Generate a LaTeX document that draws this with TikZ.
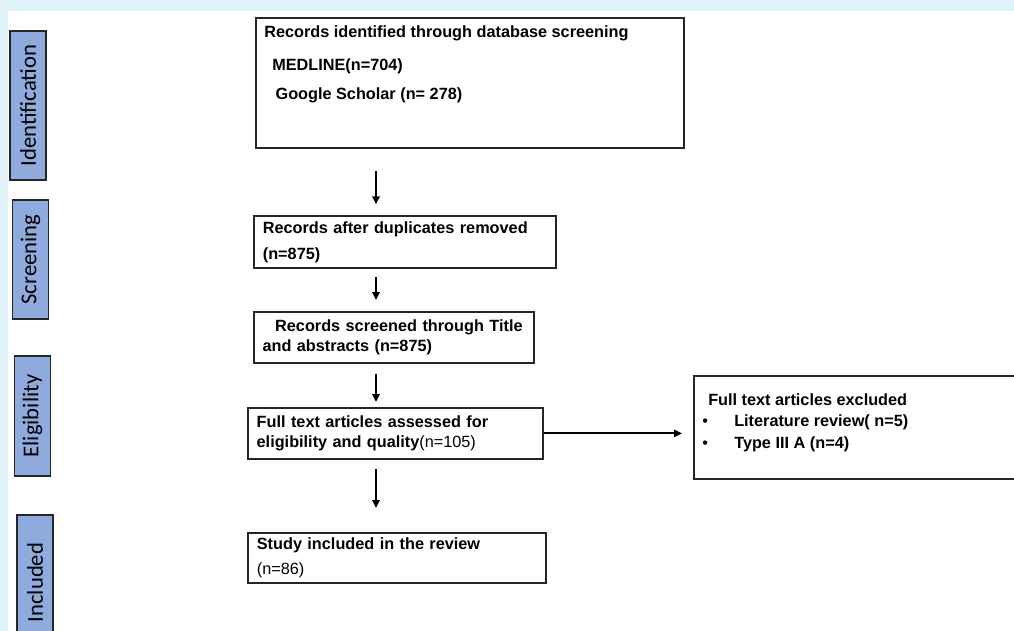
\documentclass[tikz,border=0pt]{standalone}
\usepackage{fontspec}
\setmainfont{Liberation Sans}
\newfontfamily\calibrifont{Carlito}
\usetikzlibrary{arrows.meta}
\definecolor{framebg}{HTML}{E0F2FA}
\definecolor{phasefill}{HTML}{8FAADC}
\definecolor{boxline}{HTML}{262626}

\begin{document}
\begin{tikzpicture}[x=0.75pt, y=-0.75pt,
  phase/.style={draw=boxline, line width=1.2pt, fill=phasefill, rotate=90,
    minimum height=27pt, inner sep=0pt, font=\calibrifont\fontsize{17}{20}\selectfont},
  stage/.style={draw=boxline, line width=1.3pt, anchor=north west, align=left,
    inner xsep=6.5pt, font=\fontsize{12.2}{14.6}\selectfont\bfseries},
  stagetext/.style={anchor=north west, inner sep=0pt, align=left,
    font=\fontsize{12.2}{14.6}\selectfont\bfseries},
  flow/.style={line width=1.5pt, draw=black, -{Triangle[width=5.5pt,length=6pt]}}]
  \useasboundingbox (0,0) rectangle (1014,631);
  \clip (0,0) rectangle (1014,631);
  \fill[framebg] (0,0) rectangle (1014,631);
  \fill[white] (8,11) rectangle (1014,631);

  \node[phase, minimum width=111.75pt] (idphase) at (28,105.5) {Identification};
  \node[phase, minimum width=89.25pt] (scrphase) at (30.5,259.5) {Screening};
  \node[phase, minimum width=90pt] (eligphase) at (32.5,416) {Eligibility};
  \node[phase, minimum width=101.25pt] (inclphase) at (35,582.5) {Included};

  \node[stage, minimum width=321pt, minimum height=97.5pt] (ident) at (255,17) {};
  \node[stagetext] (identtext) at (264,25) {Records identified through database screening\\[10.4pt]
    \hspace*{6pt}MEDLINE(n=704)\\[7.4pt]
    \hspace*{8.5pt}Google Scholar (n= 278)};

  \node[stage, minimum width=226.5pt, minimum height=39pt, text width=213pt] (dupl) at (253,215)
    {Records after duplicates removed\\[4.9pt](n=875)};
  \node[stage, minimum width=210pt, minimum height=38.25pt, text width=197pt] (titles) at (253,311)
    {\hspace*{9.5pt}Records screened through Title\\[1pt]and abstracts (n=875)};
  \node[stage, minimum width=221.25pt, minimum height=38.25pt, text width=208pt] (fulltext) at (247,407)
    {Full text articles assessed for\\eligibility and quality\textmd{(n=105)}};
  \node[stage, minimum width=223.5pt, minimum height=37.5pt, text width=210pt] (included) at (247,532)
    {Study included in the review\\[3.6pt]\textmd{(n=86)}};

  \node[stage, minimum width=245.25pt, minimum height=77.25pt] (excluded) at (693,375) {};
  \node[stagetext] (exctext) at (702,393) {\hspace*{4.5pt}Full text articles excluded\\[1.6pt]
    \makebox[24pt][l]{\mdseries\textbullet}Literature review( n=5)\\[1.6pt]
    \makebox[24pt][l]{\mdseries\textbullet}Type III A (n=4)};

  \coordinate (spine) at (376,0);
  \draw[flow, shorten <=17pt, shorten >=8pt] (ident.south -| spine) -- (dupl.north -| spine);
  \draw[flow, shorten <=6pt, shorten >=8.25pt] (dupl.south -| spine) -- (titles.north -| spine);
  \draw[flow, shorten <=7.5pt, shorten >=3.75pt] (titles.south -| spine) -- (fulltext.north -| spine);
  \draw[flow, shorten <=6.75pt, shorten >=18pt] (fulltext.south -| spine) -- (included.north -| spine);
  \draw[flow, shorten >=8.25pt] (fulltext.east) -- (fulltext.east -| excluded.west);
\end{tikzpicture}
\end{document}
